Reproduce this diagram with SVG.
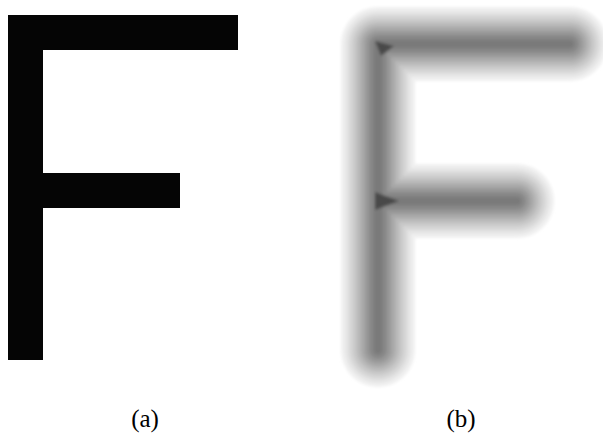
<svg xmlns="http://www.w3.org/2000/svg" width="603" height="434" viewBox="0 0 603 434">
<style>
.lbl{font-family:"Liberation Serif","Times New Roman",serif;font-size:25px;fill:#000;text-anchor:middle}
.b{fill:none;stroke-linecap:round;stroke-linejoin:round}
</style>
<defs>
<path id="skel" d="M570,44 L378,44 L378,350 M378,201 L517,201"/>
<filter id="soft" filterUnits="userSpaceOnUse" x="300" y="0" width="303" height="410"><feGaussianBlur stdDeviation="1.5"/></filter>
</defs>
<rect width="603" height="434" fill="#fff"/>
<g id="letter-a" fill="#050505">
<rect x="8" y="15" width="35" height="345"/>
<rect x="8" y="15" width="230" height="35"/>
<rect x="8" y="173" width="172" height="35"/>
</g>
<g id="letter-b" filter="url(#soft)">
<use href="#skel" class="b" stroke="#f0f0f0" stroke-width="74"/>
<use href="#skel" class="b" stroke="#e4e4e4" stroke-width="66"/>
<use href="#skel" class="b" stroke="#d6d6d6" stroke-width="58"/>
<use href="#skel" class="b" stroke="#c8c8c8" stroke-width="50"/>
<use href="#skel" class="b" stroke="#b8b8b8" stroke-width="42"/>
<use href="#skel" class="b" stroke="#a8a8a8" stroke-width="34"/>
<use href="#skel" class="b" stroke="#989898" stroke-width="26"/>
<use href="#skel" class="b" stroke="#888888" stroke-width="18"/>
<use href="#skel" class="b" stroke="#7a7a7a" stroke-width="9"/>
<polygon points="375,41 394,46 381,56" fill="#4a4a4a"/>
<polygon points="375,192 399,201 375,210" fill="#4a4a4a"/>
</g>
<text class="lbl" x="145" y="427">(a)</text>
<text class="lbl" x="461" y="427">(b)</text>
</svg>
